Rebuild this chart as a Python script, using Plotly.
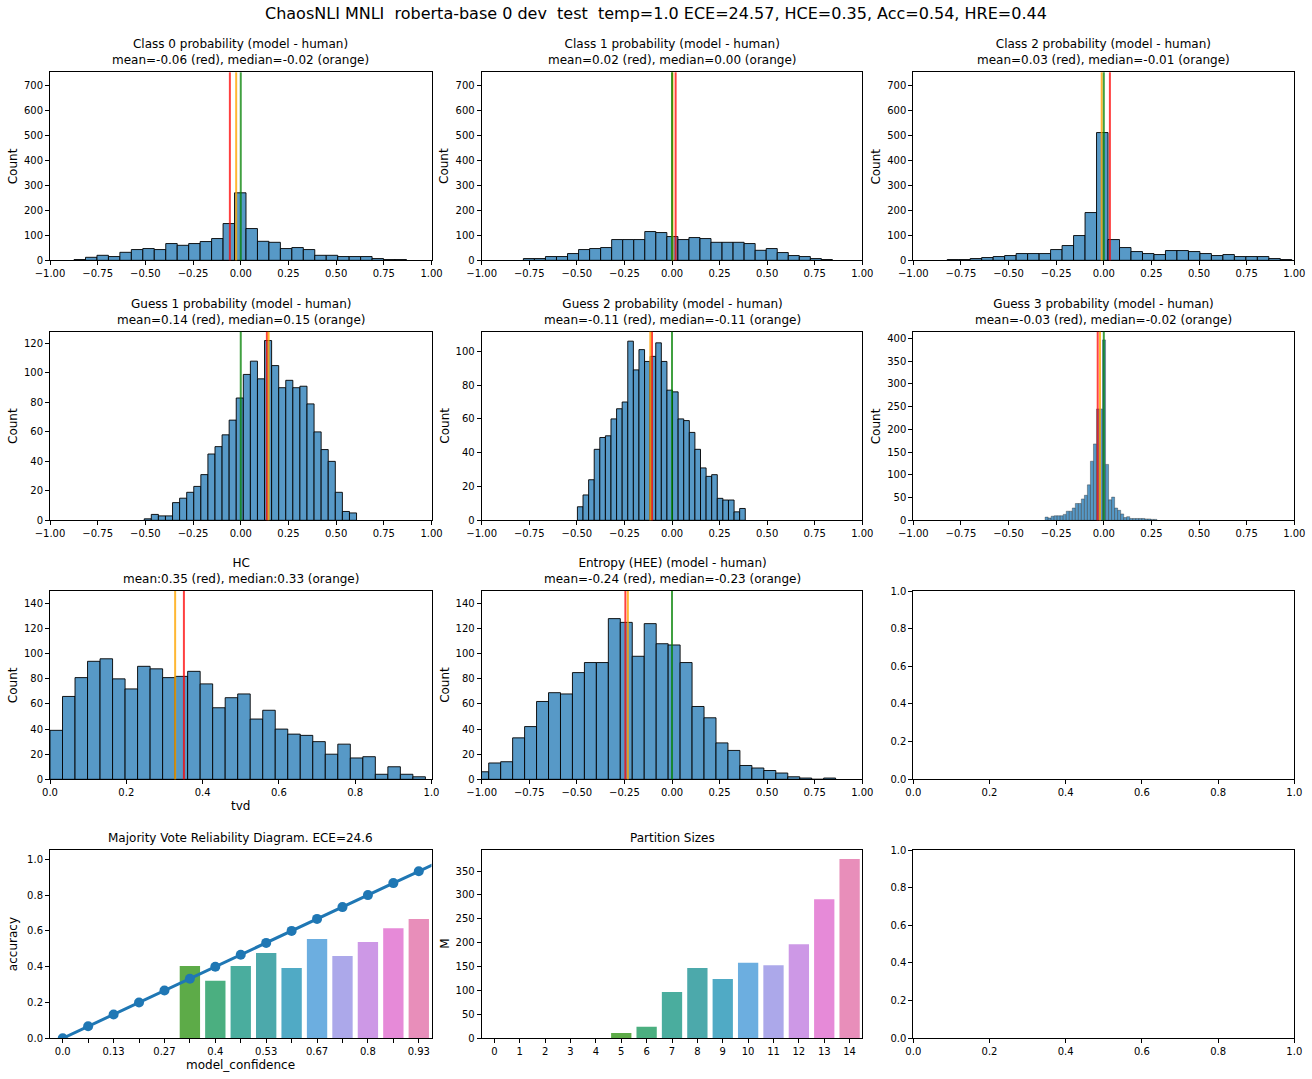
import numpy as np
import plotly.graph_objects as go

W, H = 1312, 1079

suptitle = ("ChaosNLI MNLI\u00a0 roberta-base 0 dev\u00a0 test\u00a0 temp=1.0 "
            "ECE=24.57, HCE=0.35, Acc=0.54, HRE=0.44")

# histogram data: first bin edge, bin width, counts per bin, mean, median
class0_start, class0_width = -0.874, 0.0601
class0_counts = [3, 12, 20, 15, 32, 43, 47, 43, 67, 60, 67, 75, 87, 147, 270,
                 127, 76, 72, 47, 51, 43, 20, 20, 15, 15, 15, 7, 3, 3]
class0_mean, class0_median = -0.057, -0.024

class1_start, class1_width = -0.781, 0.058
class1_counts = [7, 7, 15, 15, 27, 43, 47, 51, 83, 83, 83, 115, 111, 95, 83,
                 91, 87, 72, 72, 72, 67, 40, 47, 31, 19, 15, 7, 3]
class1_mean, class1_median = 0.019, 0.003

class2_start, class2_width = -0.822, 0.0603
class2_counts = [3, 3, 7, 11, 15, 19, 27, 27, 27, 43, 59, 99, 191, 511, 83,
                 51, 35, 27, 23, 39, 39, 35, 27, 19, 23, 15, 15, 15, 7, 3]
class2_mean, class2_median = 0.032, -0.011

guess1_start, guess1_width = -0.506, 0.0371
guess1_counts = [1, 4, 3, 3, 12, 15, 19, 23, 31, 45, 50, 58, 68, 83, 99, 108,
                 96, 122, 105, 90, 95, 90, 91, 79, 60, 48, 40, 19, 6, 5]
guess1_mean, guess1_median = 0.137, 0.146

guess2_start, guess2_width = -0.497, 0.0294
guess2_counts = [8, 15, 24, 42, 49, 50, 60, 66, 70, 106, 89, 101, 94, 97, 105,
                 94, 77, 76, 60, 59, 52, 42, 31, 26, 27, 13, 12, 12, 5, 7]
guess2_mean, guess2_median = -0.105, -0.114

guess3_start, guess3_width = -0.308, 0.01586
guess3_counts = [7, 5, 9, 10, 10, 10, 13, 20, 20, 27, 37, 37, 47, 55, 78, 130,
                 168, 245, 245, 397, 123, 45, 51, 27, 22, 14, 6, 8, 4, 4, 4, 4,
                 4, 3, 3, 2, 2]
guess3_mean, guess3_median = -0.032, -0.020

hc_start, hc_width = 0.0, 0.0328
hc_counts = [39, 66, 81, 94, 96, 80, 72, 90, 88, 81, 82, 86, 76, 57, 65, 68,
             48, 55, 40, 36, 35, 30, 20, 28, 17, 18, 4, 10, 4, 2]
hc_mean, hc_median = 0.351, 0.328

entropy_start, entropy_width = -1.026, 0.06286
entropy_counts = [6, 13, 14, 33, 42, 62, 69, 68, 85, 93, 93, 128, 125, 98, 124,
                  108, 107, 93, 58, 49, 29, 23, 11, 9, 7, 5, 2, 1, 0, 1]
entropy_mean, entropy_median = -0.245, -0.232

# reliability diagram / partition sizes
conf_labels = ["0.0", "0.07", "0.13", "0.2", "0.27", "0.33", "0.4", "0.47",
               "0.53", "0.6", "0.67", "0.73", "0.8", "0.87", "0.93"]
conf_values = [0.0, 0.067, 0.133, 0.2, 0.267, 0.333, 0.4, 0.467, 0.533, 0.6,
               0.667, 0.733, 0.8, 0.867, 0.933]
accuracy = [0, 0, 0, 0, 0, 0.404, 0.322, 0.404, 0.477, 0.393, 0.555, 0.46,
            0.538, 0.615, 0.667]
partition_sizes = [0, 0, 0, 0, 0, 11, 24, 97, 147, 124, 158, 153, 197, 291, 375]

bin_colors = ["#e8798a", "#d68a3f", "#b39a3c", "#90a63b", "#6dab3d",
              "#5dab48", "#4baf80", "#4aad9e", "#4ca9ab", "#50aac5",
              "#6caee0", "#aca8ea", "#cd98e6", "#e68ad8", "#e88eba"]

BLUE = "rgb(87,153,199)"
RED = "rgba(255,0,0,0.75)"
ORANGE = "rgba(255,165,0,0.8)"
GREEN = "rgba(0,128,0,0.75)"
FONT = "DejaVu Sans"

# subplot boxes in screen pixels
col_px = [(50, 431.5), (481.7, 862.3), (913.3, 1294.3)]
row_px = [(72.3, 260.3), (331.7, 520.3), (591, 779.3), (850, 1038.3)]


def px_x(px):
    return px / W


def px_y(py):
    return 1 - py / H


def domains(n):
    r, c = divmod(n - 1, 3)
    x0, x1 = col_px[c]
    y0, y1 = row_px[r]
    return [px_x(x0), px_x(x1)], [px_y(y1), px_y(y0)]


def axis_style(**kw):
    d = dict(showline=True, mirror=True, linecolor="black", linewidth=1,
             ticks="outside", ticklen=4, tickwidth=1, tickcolor="black",
             showgrid=False, zeroline=False, automargin=False,
             ticklabeloverflow="allow",
             tickfont=dict(family=FONT, size=10, color="black"))
    d.update(kw)
    return d


fig = go.Figure()
layout = dict(width=W, height=H, margin=dict(l=0, r=0, t=0, b=0),
              plot_bgcolor="white", paper_bgcolor="white",
              font=dict(family=FONT, color="black"), showlegend=False,
              barmode="overlay")
annotations = []
shapes = []


def suffix(n):
    return "" if n == 1 else str(n)


def label(text, px, py, angle=0, size=12):
    annotations.append(dict(text=text, x=px_x(px), y=px_y(py), xref="paper",
                            yref="paper", xanchor="center", yanchor="middle",
                            textangle=angle, showarrow=False,
                            font=dict(family=FONT, size=size)))


def ylabel(n, text):
    c = (n - 1) % 3
    r = (n - 1) // 3
    y0, y1 = row_px[r]
    label(text, col_px[c][0] - 37, (y0 + y1) / 2, -90)


def xlabel(n, text):
    c = (n - 1) % 3
    r = (n - 1) // 3
    x0, x1 = col_px[c]
    label(text, (x0 + x1) / 2, row_px[r][1] + 27)


def add_title(n, text):
    xd, yd = domains(n)
    annotations.append(dict(text=text, x=(xd[0] + xd[1]) / 2, y=yd[1],
                            xref="paper", yref="paper", xanchor="center",
                            yanchor="bottom", yshift=3, showarrow=False,
                            font=dict(family=FONT, size=12)))


def hist_panel(n, title, start, width, counts, mean, median, yrange, dtick,
               xrange, tickfmt, xdtick, green=True, xtitle=None, edge=None):
    s = suffix(n)
    edges = start + width * np.arange(len(counts) + 1)
    centers = (edges[:-1] + edges[1:]) / 2
    line = edge or dict(color="rgba(0,0,0,0.9)", width=1)
    fig.add_trace(go.Bar(x=centers, y=counts, width=width,
                         marker=dict(color=BLUE, line=line),
                         xaxis="x" + s, yaxis="y" + s, hoverinfo="skip"))
    lines = [(mean, RED), (median, ORANGE)]
    if green:
        lines.append((0.0, GREEN))
    for v, col in lines:
        shapes.append(dict(type="line", xref="x" + s, yref="y%s domain" % s,
                           x0=v, x1=v, y0=0, y1=1,
                           line=dict(color=col, width=2)))
    xd, yd = domains(n)
    layout["xaxis" + s] = axis_style(domain=xd, anchor="y" + s, range=xrange,
                                     tick0=xrange[0], dtick=xdtick,
                                     tickformat=tickfmt)
    layout["yaxis" + s] = axis_style(domain=yd, anchor="x" + s, range=yrange,
                                     dtick=dtick)
    ylabel(n, "Count")
    if xtitle:
        xlabel(n, xtitle)
    add_title(n, title)


hist_panel(1, "Class 0 probability (model - human)<br>mean=-0.06 (red), median=-0.02 (orange)",
           class0_start, class0_width, class0_counts, class0_mean, class0_median,
           [0, 752], 100, [-1, 1], ".2f", 0.25)
hist_panel(2, "Class 1 probability (model - human)<br>mean=0.02 (red), median=0.00 (orange)",
           class1_start, class1_width, class1_counts, class1_mean, class1_median,
           [0, 752], 100, [-1, 1], ".2f", 0.25)
hist_panel(3, "Class 2 probability (model - human)<br>mean=0.03 (red), median=-0.01 (orange)",
           class2_start, class2_width, class2_counts, class2_mean, class2_median,
           [0, 752], 100, [-1, 1], ".2f", 0.25)
hist_panel(4, "Guess 1 probability (model - human)<br>mean=0.14 (red), median=0.15 (orange)",
           guess1_start, guess1_width, guess1_counts, guess1_mean, guess1_median,
           [0, 128], 20, [-1, 1], ".2f", 0.25)
hist_panel(5, "Guess 2 probability (model - human)<br>mean=-0.11 (red), median=-0.11 (orange)",
           guess2_start, guess2_width, guess2_counts, guess2_mean, guess2_median,
           [0, 111.6], 20, [-1, 1], ".2f", 0.25)
hist_panel(6, "Guess 3 probability (model - human)<br>mean=-0.03 (red), median=-0.02 (orange)",
           guess3_start, guess3_width, guess3_counts, guess3_mean, guess3_median,
           [0, 415], 50, [-1, 1], ".2f", 0.25,
           edge=dict(color="rgba(40,40,40,0.55)", width=0.7))
hist_panel(7, "HC<br>mean:0.35 (red), median:0.33 (orange)",
           hc_start, hc_width, hc_counts, hc_mean, hc_median,
           [0, 150], 20, [0, 1], ".1f", 0.2, green=False, xtitle="tvd")
hist_panel(8, "Entropy (HEE) (model - human)<br>mean=-0.24 (red), median=-0.23 (orange)",
           entropy_start, entropy_width, entropy_counts, entropy_mean, entropy_median,
           [0, 150], 20, [-1, 1], ".2f", 0.25)

# reliability diagram
positions = list(range(len(conf_labels)))
fig.add_trace(go.Bar(x=positions, y=accuracy, width=0.8,
                     marker=dict(color=bin_colors, line=dict(width=0)),
                     xaxis="x10", yaxis="y10", hoverinfo="skip"))
fig.add_trace(go.Scatter(x=positions + [len(positions)], y=conf_values + [1.0],
                         mode="lines", line=dict(color="#1f77b4", width=3),
                         xaxis="x10", yaxis="y10", hoverinfo="skip"))
fig.add_trace(go.Scatter(x=positions, y=conf_values, mode="markers",
                         marker=dict(color="#1f77b4", size=10),
                         xaxis="x10", yaxis="y10", hoverinfo="skip"))
xd, yd = domains(10)
ticktext = [lab if i % 2 == 0 else "" for i, lab in enumerate(conf_labels)]
layout["xaxis10"] = axis_style(domain=xd, anchor="y10", range=[-0.5, 14.5],
                               tickvals=positions, ticktext=ticktext)
layout["yaxis10"] = axis_style(domain=yd, anchor="x10", range=[0, 1.052],
                               dtick=0.2, tickformat=".1f")
ylabel(10, "accuracy")
xlabel(10, "model_confidence")
add_title(10, "Majority Vote Reliability Diagram. ECE=24.6")

# partition sizes
fig.add_trace(go.Bar(x=positions, y=partition_sizes, width=0.8,
                     marker=dict(color=bin_colors, line=dict(width=0)),
                     xaxis="x11", yaxis="y11", hoverinfo="skip"))
xd, yd = domains(11)
layout["xaxis11"] = axis_style(domain=xd, anchor="y11", range=[-0.5, 14.5],
                               tickvals=positions,
                               ticktext=[str(p) for p in positions])
layout["yaxis11"] = axis_style(domain=yd, anchor="x11", range=[0, 394],
                               dtick=50)
ylabel(11, "M")
add_title(11, "Partition Sizes")

# empty axes
for n in (9, 12):
    s = str(n)
    fig.add_trace(go.Scatter(x=[], y=[], xaxis="x" + s, yaxis="y" + s))
    xd, yd = domains(n)
    layout["xaxis" + s] = axis_style(domain=xd, anchor="y" + s, range=[0, 1],
                                     dtick=0.2, tickformat=".1f")
    layout["yaxis" + s] = axis_style(domain=yd, anchor="x" + s, range=[0, 1],
                                     dtick=0.2, tickformat=".1f")

label(suptitle, W / 2, 14, size=16)

layout["annotations"] = annotations
layout["shapes"] = shapes
fig.update_layout(**layout)

# drop the page's default body margin so the figure fills the window
fig.write_html("out.html", config={"displayModeBar": False},
               post_script="document.body.style.margin='0px';")
